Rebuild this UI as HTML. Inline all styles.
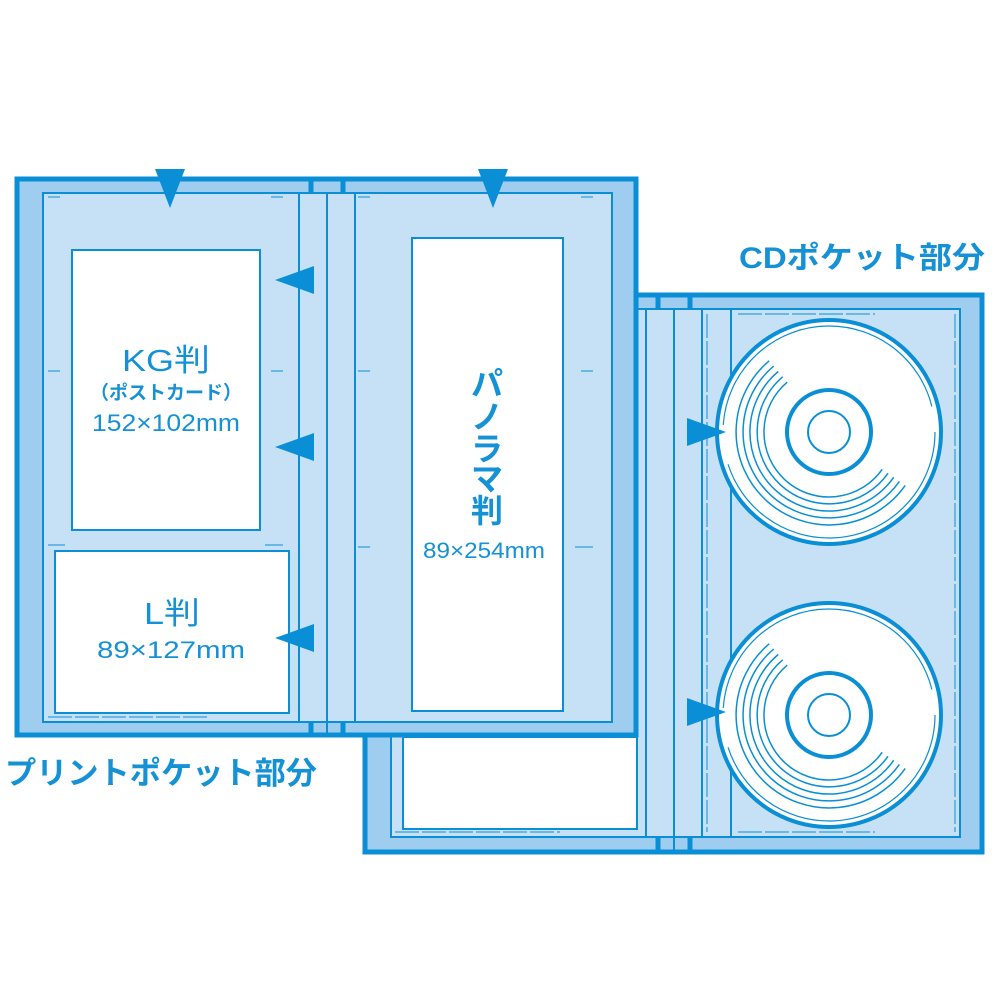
<!DOCTYPE html>
<html><head><meta charset="utf-8"><style>
html,body{margin:0;padding:0;background:#fff;width:1000px;height:1000px;overflow:hidden}
svg{display:block}
text{font-family:"Liberation Sans","Noto Sans CJK JP",sans-serif;fill:#1591d6}
</style></head><body>
<svg width="1000" height="1000" viewBox="0 0 1000 1000" xmlns="http://www.w3.org/2000/svg">
<g stroke="#0a8fd6" fill="none">
<!-- BACK ALBUM -->
<rect x="365" y="295" width="617" height="557" fill="#9fcdef" stroke-width="5"/>
<rect x="391" y="309" width="569" height="528" fill="#c6e1f5" stroke-width="2"/>
<rect x="403" y="737" width="234" height="92" fill="#fff" stroke-width="2"/>
<line x1="646" y1="309" x2="646" y2="837" stroke-width="2"/>
<line x1="674" y1="309" x2="674" y2="850" stroke-width="2"/>
<line x1="702" y1="309" x2="702" y2="837" stroke-width="2"/>
<line x1="731" y1="309" x2="731" y2="837" stroke-width="2"/>
<line x1="658" y1="295" x2="658" y2="309" stroke-width="5"/>
<line x1="690" y1="295" x2="690" y2="309" stroke-width="5"/>
<line x1="658" y1="837" x2="658" y2="852" stroke-width="5"/>
<line x1="690" y1="837" x2="690" y2="852" stroke-width="5"/>
<line x1="707" y1="314" x2="707" y2="832" stroke-width="1" stroke-dasharray="24 3"/>
<line x1="955" y1="314" x2="955" y2="832" stroke-width="1" stroke-dasharray="24 3"/>
<line x1="738" y1="314" x2="875" y2="314" stroke-width="1" stroke-dasharray="24 3"/>
<line x1="738" y1="832" x2="875" y2="832" stroke-width="1" stroke-dasharray="24 3"/>
<line x1="395" y1="832" x2="560" y2="832" stroke-width="1" stroke-dasharray="24 3"/>
<!-- CDs -->
<g id="cd">
<circle cx="829" cy="432" r="112" fill="#fff" stroke-width="4"/>
<circle cx="829" cy="432" r="106" stroke-width="1.2" stroke-dasharray="300 40"/>
<path d="M769.2 360.8 A93 93 0 1 0 905.2 485.4" stroke-width="1.5"/>
<path d="M773.7 366.1 A86 86 0 1 0 899.4 481.4" stroke-width="1.5"/>
<path d="M778.2 371.5 A79 79 0 1 0 893.7 477.3" stroke-width="1.5"/>
<path d="M782.7 376.8 A72 72 0 1 0 888.0 473.3" stroke-width="1.5"/>
<path d="M787.2 382.2 A65 65 0 1 0 882.2 469.3" stroke-width="1.5"/>
<circle cx="829" cy="432" r="42" stroke-width="4"/>
<circle cx="829" cy="432" r="21" stroke-width="2"/>
</g>
<use href="#cd" transform="translate(0,283)"/>
<!-- FRONT ALBUM -->
<rect x="17" y="179" width="619" height="556" fill="#9fcdef" stroke-width="5"/>
<rect x="43" y="193" width="569" height="529" fill="#c6e1f5" stroke-width="2"/>
<line x1="299" y1="193" x2="299" y2="722" stroke-width="2"/>
<line x1="327" y1="193" x2="327" y2="735" stroke-width="2"/>
<line x1="355" y1="193" x2="355" y2="722" stroke-width="2"/>
<line x1="311" y1="179" x2="311" y2="193" stroke-width="5"/>
<line x1="343" y1="179" x2="343" y2="193" stroke-width="5"/>
<line x1="311" y1="722" x2="311" y2="735" stroke-width="5"/>
<line x1="343" y1="722" x2="343" y2="735" stroke-width="5"/>
<rect x="72" y="250" width="188" height="280" fill="#fff" stroke-width="2"/>
<rect x="55" y="551" width="234" height="162" fill="#fff" stroke-width="2"/>
<rect x="412" y="238" width="151" height="473" fill="#fff" stroke-width="2"/>
<g stroke-width="1">
<line x1="48" y1="197" x2="60" y2="197"/><line x1="271" y1="197" x2="283" y2="197"/>
<line x1="48" y1="371" x2="60" y2="371"/><line x1="271" y1="371" x2="283" y2="371"/>
<line x1="48" y1="545" x2="65" y2="545"/><line x1="265" y1="545" x2="283" y2="545"/>
<line x1="48" y1="717" x2="210" y2="717" stroke-dasharray="24 3"/>
<line x1="358" y1="197" x2="370" y2="197"/><line x1="581" y1="197" x2="593" y2="197"/>
<line x1="358" y1="371" x2="370" y2="371"/><line x1="581" y1="371" x2="593" y2="371"/>
<line x1="358" y1="547" x2="370" y2="547"/><line x1="575" y1="547" x2="593" y2="547"/>
</g>
</g>
<g fill="#0a8fd6">
<polygon points="155,169 185,169 170,208"/>
<polygon points="478,169 508,169 493,208"/>
<polygon points="314,266 314,294 275,280"/>
<polygon points="314,433 314,461 275,447"/>
<polygon points="314,624 314,652 275,638"/>
<polygon points="687,418 687,446 726,432"/>
<polygon points="687,698 687,726 726,712"/>
</g>
<text x="122" y="371" font-size="31" textLength="88" lengthAdjust="spacingAndGlyphs">KG判</text>
<text x="166" y="399" font-size="19" font-weight="bold" text-anchor="middle">（ポストカード）</text>
<text x="92" y="431" font-size="24" textLength="148" lengthAdjust="spacingAndGlyphs">152×102mm</text>
<text x="144" y="624" font-size="31" textLength="56" lengthAdjust="spacingAndGlyphs">L判</text>
<text x="97" y="658" font-size="24" textLength="148" lengthAdjust="spacingAndGlyphs">89×127mm</text>
<g font-weight="bold">
<text x="487" y="395" font-size="32" text-anchor="middle">パ</text>
<text x="487" y="428" font-size="32" text-anchor="middle">ノ</text>
<text x="487" y="460" font-size="32" text-anchor="middle">ラ</text>
<text x="487" y="490" font-size="32" text-anchor="middle">マ</text>
<text x="487" y="522" font-size="32" text-anchor="middle">判</text>
</g>
<text x="423" y="558" font-size="22" textLength="122" lengthAdjust="spacingAndGlyphs">89×254mm</text>
<text x="739" y="268" font-size="30" font-weight="bold" textLength="246" lengthAdjust="spacingAndGlyphs">CDポケット部分</text>
<text x="5" y="784" font-size="31" font-weight="bold" textLength="312" lengthAdjust="spacingAndGlyphs">プリントポケット部分</text>
</svg>
</body></html>
